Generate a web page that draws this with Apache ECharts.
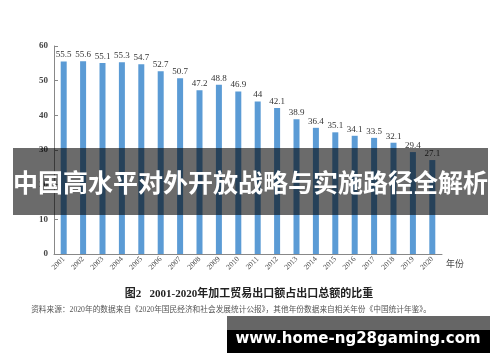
<!DOCTYPE html>
<html><head><meta charset="utf-8">
<script src="https://cdn.jsdelivr.net/npm/echarts@6/dist/echarts.min.js"></script>
<style>html,body{margin:0;padding:0;background:#fff}#c{width:500px;height:362px}</style>
</head><body><div id="c"></div>
<script>
var years = ['2001','2002','2003','2004','2005','2006','2007','2008','2009','2010','2011','2012','2013','2014','2015','2016','2017','2018','2019','2020'];
var shares = [55.5,55.6,55.1,55.3,54.7,52.7,50.7,47.2,48.8,46.9,44,42.1,38.9,36.4,35.1,34.1,33.5,32.1,29.4,27.1];
var yTicks = [0,10,20,30,40,50,60];
var overlayTitle = '中国高水平对外开放战略与实施路径全解析';
var caption = '图2   2001-2020年加工贸易出口额占出口总额的比重';
var sourceNote = '资料来源：2020年的数据来自《2020年国民经济和社会发展统计公报》，其他年份数据来自相关年份《中国统计年鉴》。';
var watermark = 'www.home-ng28gaming.com';
var xName = '年份';

var serif = '"Liberation Serif","Noto Sans CJK SC",serif';
var chart = echarts.init(document.getElementById('c'));
chart.setOption({
  animation: false,
  grid: {left: 54, right: 58, top: 46, bottom: 108},
  xAxis: {
    type: 'category', data: years,
    name: xName, nameLocation: 'end', nameGap: 4,
    nameTextStyle: {fontFamily: serif, fontSize: 9, color: '#444', verticalAlign: 'top', padding: [6,0,0,0]},
    axisLine: {lineStyle: {color: '#888', width: 1}},
    axisTick: {show: false},
    axisLabel: {rotate: 45, fontFamily: serif, fontSize: 7.5, color: '#444', margin: 4, interval: 0}
  },
  yAxis: {
    type: 'value', min: 0, max: 60, interval: 10,
    axisLine: {show: true, lineStyle: {color: '#888'}},
    axisTick: {show: true, inside: true, length: 4, lineStyle: {color: '#888'}},
    splitLine: {show: false},
    axisLabel: {fontFamily: serif, fontSize: 9, fontWeight: 'bold', color: '#444', margin: 6}
  },
  series: [{
    type: 'bar', data: shares, barWidth: 6,
    itemStyle: {color: '#5b9bd5'},
    label: {show: true, position: 'top', distance: 2, fontFamily: serif, fontSize: 9, color: '#333'}
  }],
  graphic: [
    {type: 'rect', z: 100, shape: {x: 13, y: 148, width: 475, height: 67}, style: {fill: 'rgba(0,0,0,0.58)'}},
    {type: 'text', z: 101, x: 250.5, y: 182, style: {text: overlayTitle, fill: '#fff', font: 'bold 25px "Noto Sans CJK SC"', textAlign: 'center', textVerticalAlign: 'middle'}},
    {type: 'text', z: 101, x: 249, y: 294, style: {text: caption, fill: '#222', font: 'bold 11px "Liberation Serif","Noto Sans CJK SC"', textAlign: 'center', textVerticalAlign: 'middle'}},
    {type: 'text', z: 101, x: 231, y: 310, style: {text: sourceNote, fill: '#555', font: '7.7px "Liberation Serif","Noto Sans CJK SC"', textAlign: 'center', textVerticalAlign: 'middle'}},
    {type: 'rect', z: 100, shape: {x: 227, y: 316, width: 263, height: 14}, style: {fill: '#666'}},
    {type: 'rect', z: 100, shape: {x: 227, y: 330, width: 263, height: 23}, style: {fill: '#000'}},
    {type: 'text', z: 101, x: 358, y: 339, style: {text: watermark, fill: '#fff', font: 'bold 15px "DejaVu Sans"', textAlign: 'center', textVerticalAlign: 'middle'}}
  ]
});
</script></body></html>
